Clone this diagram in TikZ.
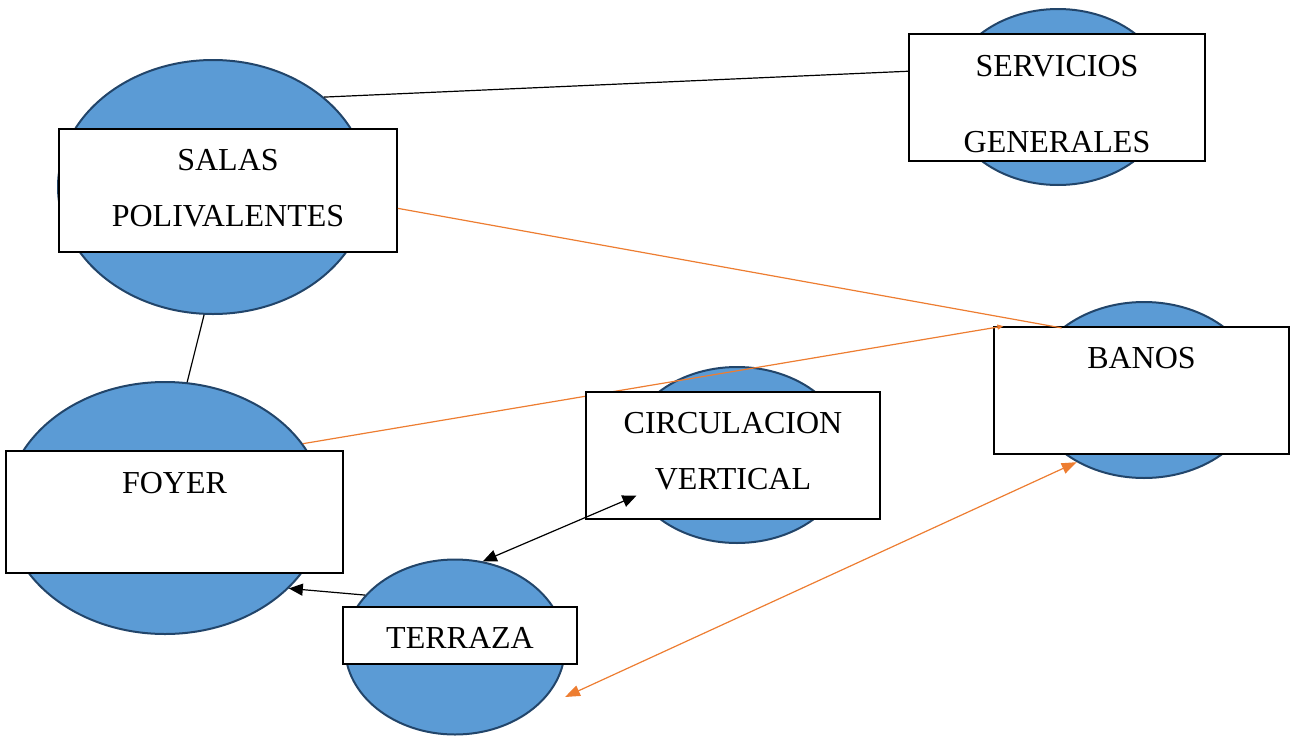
\documentclass[tikz,border=0pt]{standalone}
\usepackage{fontspec}
\setmainfont{Liberation Serif}
\usetikzlibrary{arrows.meta,calc,shapes.geometric}
\definecolor{ellfill}{HTML}{5B9BD5}
\definecolor{elldraw}{HTML}{22456A}
\definecolor{orng}{HTML}{ED7D31}
\begin{document}
\begin{tikzpicture}[x=1pt,y=-1pt,
  bubble/.style={ellipse, draw=elldraw, fill=ellfill, line width=2pt, inner sep=0pt},
  box/.style={rectangle, draw=black, fill=white, line width=1.8pt, inner sep=0pt},
  lbl/.style={font=\fontsize{32}{38}\selectfont, inner sep=0pt, anchor=base},
  link/.style={line width=1.2pt, black},
  olink/.style={line width=1.2pt, orng},
  btip/.style={-{Triangle[length=14pt,width=12pt]}},
  bboth/.style={{Triangle[length=14pt,width=12pt]}-{Triangle[length=14pt,width=12pt]}},
  oboth/.style={{Triangle[length=15pt,width=11pt]}-{Triangle[length=15pt,width=11pt]}}
]
\useasboundingbox (0,0) rectangle (1296,742);

% ellipses
\node[bubble, minimum width=310pt, minimum height=254pt] (salasE) at (213,187) {};
\node[bubble, minimum width=222pt, minimum height=176pt] (servE) at (1058,97) {};
\node[bubble, minimum width=228pt, minimum height=176pt] (banosE) at (1144,390) {};
\node[bubble, minimum width=224pt, minimum height=176pt] (circE) at (737,455) {};
\node[bubble, minimum width=318pt, minimum height=252pt] (foyerE) at (165,508) {};
\node[bubble, minimum width=220pt, minimum height=175pt] (terrE) at (455,647) {};

% box centres
\coordinate (salasC) at (228,190.5);
\coordinate (servC) at (1057,97.5);
\coordinate (circC) at (733,455.5);
\coordinate (banosC) at (1141.5,390.5);
\coordinate (foyerC) at (174.5,512);
\coordinate (terrC) at (460,635.5);

\node[box, minimum width=338pt, minimum height=123pt] (salasB) at (salasC) {};
\node[box, minimum width=295pt, minimum height=127pt] (banosB) at (banosC) {};
% orange lines (under the other boxes)
\draw[olink] (salasB.-6) -- (banosE.143);
\draw[olink, -{Triangle[length=6pt,width=5pt]}] (foyerE.25) -- (banosB.155);

\node[box, minimum width=296pt, minimum height=127pt] (servB) at (servC) {};
\node[box, minimum width=294pt, minimum height=127pt] (circB) at (circC) {};
\node[box, minimum width=337pt, minimum height=122pt] (foyerB) at (foyerC) {};
\node[box, minimum width=234pt, minimum height=57pt] (terrB) at (terrC) {};

% connectors
\draw[link] (salasE.39) -- (servB.170);
\draw[link] (salasE.-94) -- (foyerE.80);
\draw[link, btip] (terrE.150) -- (foyerE.-33);
\draw[link, bboth] (terrE.72) -- (circE.-158);
\draw[olink, oboth] ($(terrE.center)+(110,50)$) -- (banosE.-133);

% labels
\node[lbl] (salasT1) at (228,170) {SALAS};
\node[lbl] (salasT2) at (228,226) {POLIVALENTES};
\node[lbl] (servT1) at (1057,76) {SERVICIOS};
\node[lbl] (servT2) at (1057,152) {GENERALES};
\node[lbl] (circT1) at (733,433) {CIRCULACION};
\node[lbl] (circT2) at (733,489) {VERTICAL};
\node[lbl] (banosT) at (1141.5,368) {BANOS};
\node[lbl] (foyerT) at (174.5,493) {FOYER};
\node[lbl] (terrT) at (460,648) {TERRAZA};
\end{tikzpicture}
\end{document}
